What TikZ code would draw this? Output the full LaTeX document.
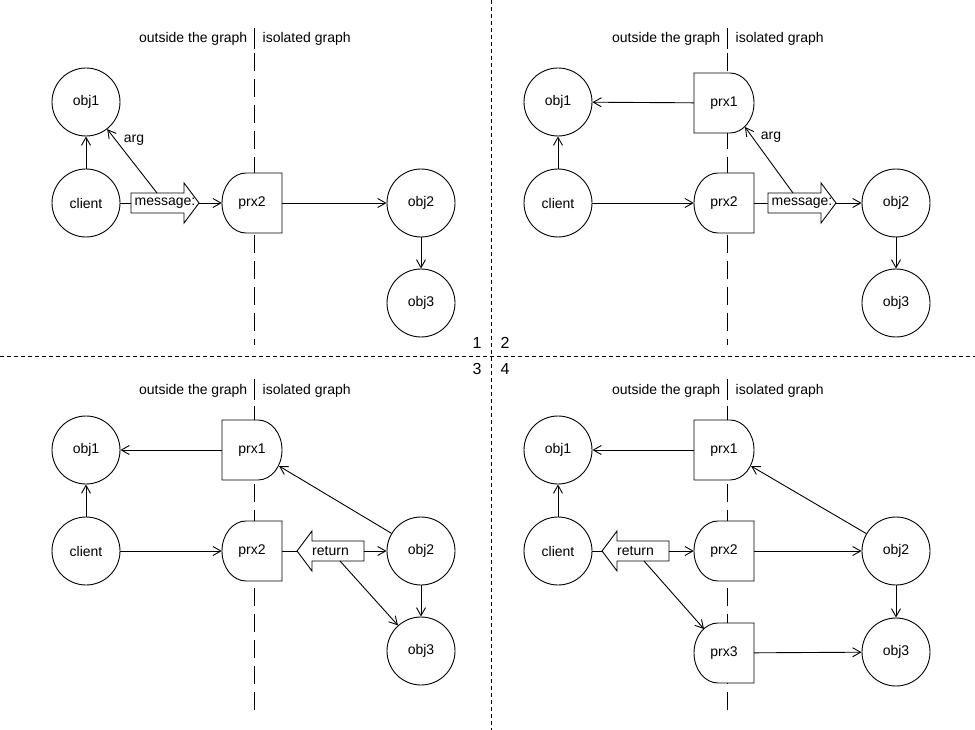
\documentclass[tikz,border=0pt]{standalone}
\usepackage{fontspec}
\setmainfont{Liberation Sans}
\usetikzlibrary{arrows.meta,calc}
\tikzset{
  obj/.style={circle,draw,line width=0.9pt,minimum size=68pt,inner sep=0pt,fill=white},
  prx/.style={minimum width=60pt,minimum height=60pt,inner sep=0pt},
  shp/.style={draw,line width=0.9pt,fill=white},
  conn/.style={line width=0.9pt,-{Straight Barb[length=8pt,width=9pt]}},
  plain/.style={line width=0.9pt},
  blk/.style={draw,line width=0.9pt,fill=white},
  sepline/.style={line width=0.9pt,dash pattern=on 18pt off 8pt},
  quad/.style={line width=0.8pt,dash pattern=on 4pt off 3pt},
  lbl/.style={inner sep=0pt},
  num/.style={inner sep=0pt,font=\fontsize{16}{18}\selectfont},
}
% proxy shape rounded on the left: name, cx, cy, text
\newcommand\proxyL[4]{%
  \draw[shp] (#2+30,#3-30) -- (#2-6,#3-30) .. controls (#2-19.25,#3-30) and (#2-30,#3-16.6) .. (#2-30,#3)
    .. controls (#2-30,#3+16.6) and (#2-19.25,#3+30) .. (#2-6,#3+30) -- (#2+30,#3+30) -- cycle;
  \node[prx] (#1) at (#2,#3) {#4};}
% proxy shape rounded on the right
\newcommand\proxyR[4]{%
  \draw[shp] (#2-30,#3-30) -- (#2+6,#3-30) .. controls (#2+19.25,#3-30) and (#2+30,#3-16.6) .. (#2+30,#3)
    .. controls (#2+30,#3+16.6) and (#2+19.25,#3+30) .. (#2+6,#3+30) -- (#2-30,#3+30) -- cycle;
  \node[prx] (#1) at (#2,#3) {#4};}
% block arrow pointing right: name, left x, cy, text
\newcommand\blockR[4]{%
  \draw[blk] (#2,#3-10) -- (#2+53,#3-10) -- (#2+53,#3-20) -- (#2+68,#3) -- (#2+53,#3+20) -- (#2+53,#3+10) -- (#2,#3+10) -- cycle;
  \node[lbl] (#1) at (#2+34,#3) {#4};
  \coordinate (#1tip) at (#2+68,#3);
  \coordinate (#1tail) at (#2,#3);}
% block arrow pointing left: name, tip x, cy, text
\newcommand\blockL[4]{%
  \draw[blk] (#2,#3) -- (#2+15,#3-20) -- (#2+15,#3-10) -- (#2+67,#3-10) -- (#2+67,#3+10) -- (#2+15,#3+10) -- (#2+15,#3+20) -- cycle;
  \node[lbl] (#1) at (#2+33.5,#3) {#4};
  \coordinate (#1tip) at (#2,#3);
  \coordinate (#1tail) at (#2+67,#3);}
% header: separator x, baseline y
\newcommand\header[3]{%
  \node[lbl,anchor=base east] (#1o) at (#2-7,#3) {outside the graph};
  \node[lbl,anchor=base west] (#1i) at (#2+8,#3) {isolated graph};
  \draw[plain] (#2,#3-15) -- (#2,#3+6);}
\begin{document}
\begin{tikzpicture}[x=1pt,y=-1pt,every node/.style={font=\fontsize{14}{16}\selectfont}]
\useasboundingbox (0,0) rectangle (975,730);
% quadrant dividers
\draw[quad] (491,0) -- (491,730);
\draw[quad] (0,356) -- (975,356);
\node[num] (n1) at (477,343) {1};
\node[num] (n2) at (505,343) {2};
\node[num] (n3) at (477,369) {3};
\node[num] (n4) at (505,369) {4};
% graph boundaries
\draw[sepline] (254.5,53) -- (254.5,345);
\draw[sepline] (727.5,53) -- (727.5,345);
\draw[sepline] (254.5,406) -- (254.5,712);
\draw[sepline] (727.5,406) -- (727.5,712);
\header{ha}{254.5}{43}
\header{hb}{727.5}{43}
\header{hc}{254.5}{394}
\header{hd}{727.5}{394}

% ---------- quadrant 1 ----------
\node[obj] (a-obj1) at (86,102) {obj1};
\node[obj] (a-client) at (86,203) {client};
\proxyL{a-prx2}{252}{203}{prx2}
\node[obj] (a-obj2) at (421,203) {obj2};
\node[obj] (a-obj3) at (421,303) {obj3};
\blockR{a-msg}{131}{203}{message:}
\coordinate (a-arg) at (157,193);
\node[lbl] (a-argl) at (134,140) {arg};
\draw[conn] (a-client) -- (a-obj1);
\draw[plain] (a-client) -- (a-msgtail);
\draw[conn] (a-msgtip) -- (a-prx2);
\draw[conn] (a-arg) -- (a-obj1);
\draw[conn] (a-prx2) -- (a-obj2);
\draw[conn] (a-obj2) -- (a-obj3);

% ---------- quadrant 2 ----------
\node[obj] (b-obj1) at (558,102) {obj1};
\node[obj] (b-client) at (558,203) {client};
\proxyR{b-prx1}{724}{103}{prx1}
\proxyL{b-prx2}{724}{203}{prx2}
\node[obj] (b-obj2) at (896,203) {obj2};
\node[obj] (b-obj3) at (896,303) {obj3};
\blockR{b-msg}{768}{203}{message:}
\coordinate (b-arg) at (793,193);
\node[lbl] (b-argl) at (771,137) {arg};
\draw[conn] (b-client) -- (b-obj1);
\draw[conn] (b-client) -- (b-prx2);
\draw[conn] (b-prx1) -- (b-obj1);
\draw[plain] (b-prx2) -- (b-msgtail);
\draw[conn] (b-msgtip) -- (b-obj2);
\draw[conn] (b-arg) -- ($(b-prx1)+(21,24)$);
\draw[conn] (b-obj2) -- (b-obj3);

% ---------- quadrant 3 ----------
\node[obj] (c-obj1) at (86,450) {obj1};
\node[obj] (c-client) at (86,551) {client};
\proxyR{c-prx1}{252}{450}{prx1}
\proxyL{c-prx2}{252}{551}{prx2}
\node[obj] (c-obj2) at (421,551) {obj2};
\node[obj] (c-obj3) at (421,651) {obj3};
\blockL{c-ret}{297}{551}{return}
\coordinate (c-ret2) at (340,561);
\draw[conn] (c-client) -- (c-obj1);
\draw[conn] (c-client) -- (c-prx2);
\draw[conn] (c-prx1) -- (c-obj1);
\draw[plain] (c-prx2) -- (c-rettip);
\draw[conn] (c-rettail) -- (c-obj2);
\draw[conn] (c-ret2) -- (c-obj3);
\draw[conn] (c-obj2) -- ($(c-prx1)+(27,16)$);
\draw[conn] (c-obj2) -- (c-obj3);

% ---------- quadrant 4 ----------
\node[obj] (d-obj1) at (558,450) {obj1};
\node[obj] (d-client) at (558,551) {client};
\proxyR{d-prx1}{724}{450}{prx1}
\proxyL{d-prx2}{724}{551}{prx2}
\proxyL{d-prx3}{724}{653}{prx3}
\node[obj] (d-obj2) at (896,551) {obj2};
\node[obj] (d-obj3) at (896,652) {obj3};
\blockL{d-ret}{602}{551}{return}
\coordinate (d-ret2) at (644,561);
\draw[conn] (d-client) -- (d-obj1);
\draw[plain] (d-client) -- (d-rettip);
\draw[conn] (d-rettail) -- (d-prx2);
\draw[conn] (d-ret2) -- ($(d-prx3)+(-20,-24)$);
\draw[conn] (d-prx1) -- (d-obj1);
\draw[conn] (d-prx2) -- (d-obj2);
\draw[conn] (d-prx3) -- (d-obj3);
\draw[conn] (d-obj2) -- ($(d-prx1)+(27,16)$);
\draw[conn] (d-obj2) -- (d-obj3);
\end{tikzpicture}
\end{document}
